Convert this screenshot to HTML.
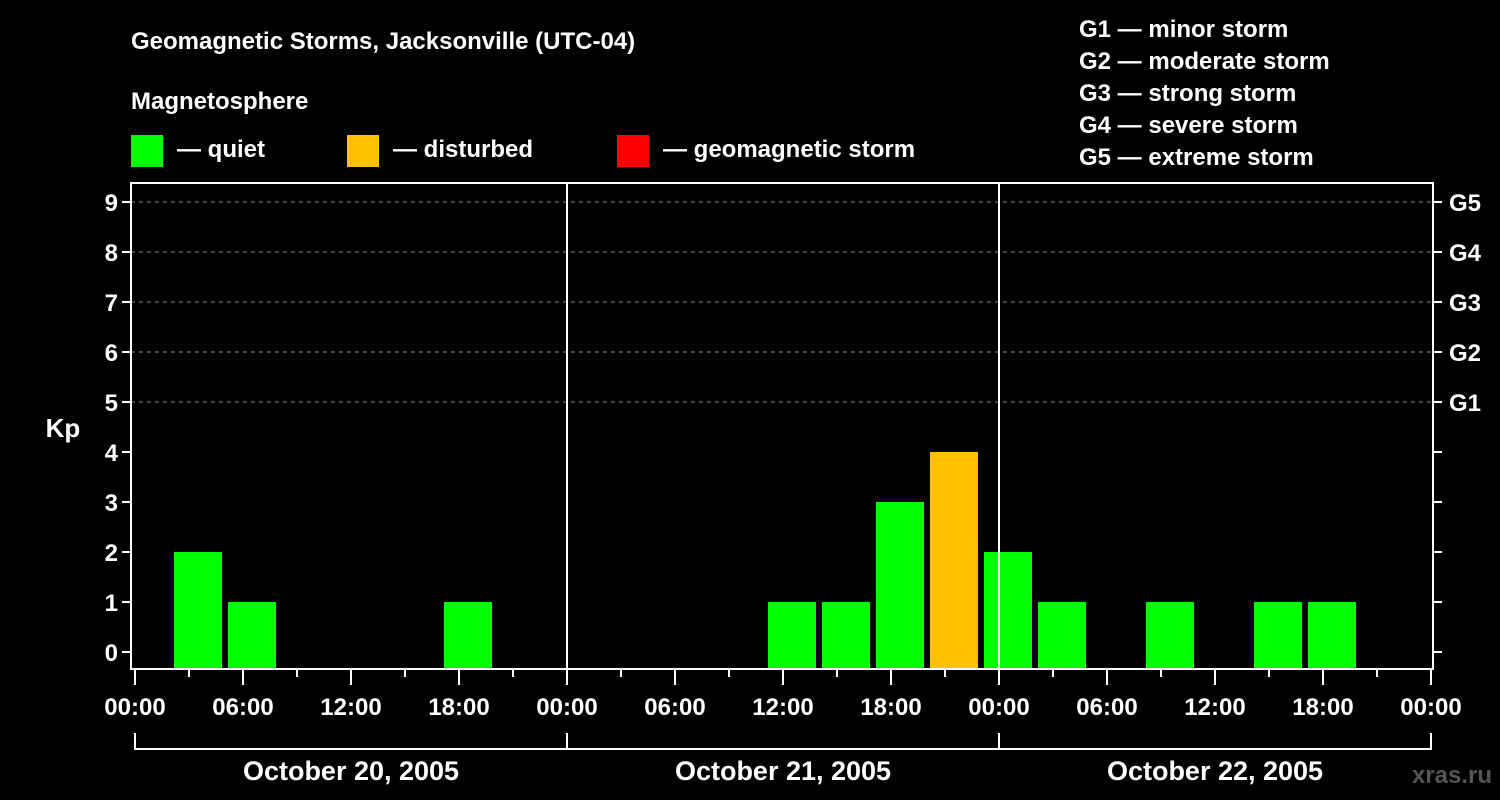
<!DOCTYPE html>
<html><head><meta charset="utf-8"><style>
body{margin:0;background:#000;width:1500px;height:800px;overflow:hidden}
svg{display:block;font-family:"Liberation Sans",sans-serif;font-weight:bold}
</style></head><body>
<svg id="c" width="1500" height="800" viewBox="0 0 1500 800">
<rect width="1500" height="800" fill="#000"/>
<text x="131" y="49" fill="#fff" font-size="24">Geomagnetic Storms, Jacksonville (UTC-04)</text>
<text x="131" y="109" fill="#fff" font-size="24">Magnetosphere</text>
<g><rect x="131" y="135" width="32" height="32" fill="#00ff00"/><text x="177" y="157" fill="#fff" font-size="24">— quiet</text></g>
<g><rect x="347" y="135" width="32" height="32" fill="#ffc000"/><text x="393" y="157" fill="#fff" font-size="24">— disturbed</text></g>
<g><rect x="617" y="135" width="32" height="32" fill="#ff0000"/><text x="663" y="157" fill="#fff" font-size="24">— geomagnetic storm</text></g>
<g fill="#fff" font-size="24">
<text x="1079" y="37">G1 — minor storm</text><text x="1079" y="69">G2 — moderate storm</text><text x="1079" y="101">G3 — strong storm</text><text x="1079" y="133">G4 — severe storm</text><text x="1079" y="165">G5 — extreme storm</text>
</g>
<text x="63" y="437" fill="#fff" font-size="26" text-anchor="middle">Kp</text>
<text x="1492" y="783" fill="#555" font-size="24" text-anchor="end">xras.ru</text>
<g id="g"></g>
</svg>
<script>
const kpValues=[2,1,null,null,null,1,null,null, null,null,null,1,1,3,4,2, 1,null,1,null,1,1,null,null];
const yTicks=[0,1,2,3,4,5,6,7,8,9];
const gLabels=["G1","G2","G3","G4","G5"];
const xLabels=["00:00","06:00","12:00","18:00","00:00","06:00","12:00","18:00","00:00","06:00","12:00","18:00","00:00"];
const dateLabels=["October 20, 2005","October 21, 2005","October 22, 2005"];
const firstSlotHour=2, slotHours=3;
const X0=135, PX_H=18, L=131, R=1433, T=183, B=669;
const x=h=>X0+h*PX_H;
const y=v=>652-v*50;
const NS="http://www.w3.org/2000/svg";
const g=document.getElementById('g');
function mk(t,a,txt){const e=document.createElementNS(NS,t);for(const k in a)e.setAttribute(k,a[k]);if(txt!=null)e.textContent=txt;g.appendChild(e);return e;}
yTicks.forEach(v=>{
 if(v>=5){const l=mk('line',{x1:L,x2:R,y1:y(v),y2:y(v),stroke:'#888','stroke-dasharray':'4,4','stroke-width':1});
 
 }
 const t=mk('line',{x1:L-9,x2:L,y1:y(v),y2:y(v),stroke:'#fff','stroke-width':2});
 
 
 const t2=mk('line',{x1:R,x2:R+9,y1:y(v),y2:y(v),stroke:'#fff','stroke-width':2});
 
 
 const lb=mk('text',{x:L-13,y:y(v)+9,fill:'#fff','font-size':24,'text-anchor':'end'},v);
 
 
});
gLabels.forEach((s,i)=>{
 const lb=mk('text',{x:R+16,y:y(5+i)+9,fill:'#fff','font-size':24},s);
 
 
});
kpValues.forEach((v,i)=>{
 if(v==null)return;
 const h0=firstSlotHour+i*slotHours;
 const col=v>=5?'#ff0000':(v>=4?'#ffc000':'#00ff00');
 const r=mk('rect',{x:x(h0)+3,y:y(v),width:slotHours*PX_H-6,height:B-1-y(v),fill:col});
 
 
});
[1,2].forEach(d=>{
 const l=mk('line',{x1:x(d*24),x2:x(d*24),y1:T,y2:B,stroke:'#fff','stroke-width':2});
 
 
});
const fr=mk('rect',{x:L,y:T,width:R-L,height:B-T,fill:'none',stroke:'#fff','stroke-width':2});


for(let h=0;h<=72;h+=3){
 const major=h%6===0;
 const t=mk('line',{x1:x(h),x2:x(h),y1:B,y2:major?685:677,stroke:'#fff','stroke-width':2});
 
 
}
xLabels.forEach((s,i)=>{
 const lb=mk('text',{x:x(i*6),y:715,fill:'#fff','font-size':24,'text-anchor':'middle'},s);
 
 
});
const br=mk('path',{d:`M${x(0)} 733V749H${x(72)}V733M${x(24)} 733V749M${x(48)} 733V749`,stroke:'#fff','stroke-width':2,fill:'none'});


dateLabels.forEach((s,i)=>{
 const lb=mk('text',{x:x(i*24+12),y:780,fill:'#fff','font-size':27,'text-anchor':'middle'},s);
 
 
});
</script>
</body></html>
